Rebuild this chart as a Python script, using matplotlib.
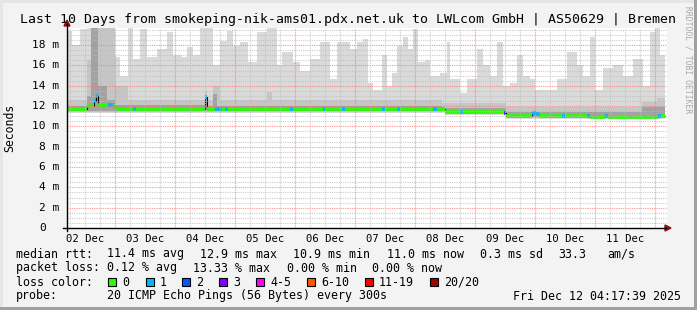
import matplotlib
matplotlib.use("Agg")
import matplotlib.pyplot as plt
from matplotlib.patches import Rectangle, Polygon
from matplotlib.lines import Line2D
import numpy as np

# hours since window start (02 Dec ~04:48), step values
smoke_h = [0, 2, 5.2, 8, 19.2, 21.2, 24.4, 26.4, 29.2, 32, 36, 40, 42.4, 46, 48, 50.4,
           53.2, 56, 58.4, 61.2, 64, 66.4, 69.2, 72.4, 76, 80, 84, 86, 90.4, 93.2, 97.2,
           101.2, 105.2, 108, 113.2, 116, 118.4, 120.4, 122.4, 126, 128, 130, 132, 134.4,
           136.4, 138.4, 140.4, 143.2, 145.2, 149.2, 152, 153.2, 157.2, 160, 164, 166.4,
           169.2, 172, 174.4, 177.2, 180, 182.4, 185.2, 187.2, 196, 200, 204, 206.4, 209.2,
           211.2, 214.4, 218.4, 222.4, 226.4, 230.4, 233.2, 235.2, 237.2]
smoke_max = [19.4, 18.0, 19.6, 20, 16.8, 15.0, 19.7, 16.6, 19.6, 16.8, 17.6, 19.3, 17.0, 16.8,
             17.8, 17.0, 19.8, 19.9, 16.0, 18.45, 19.4, 17.96, 18.3, 16.3, 19.3, 19.8, 16.0,
             17.3, 16.3, 15.5, 16.6, 18.3, 14.7, 18.3, 17.6, 18.3, 18.6, 14.3, 13.6, 17.0,
             14.0, 15.3, 17.96, 18.8, 17.6, 19.6, 16.3, 16.5, 15.0, 15.3, 18.3, 14.7, 13.3,
             14.7, 17.6, 16.0, 15.0, 18.3, 14.0, 14.3, 17.0, 15.0, 14.7, 13.6, 14.7, 17.3,
             16.0, 15.0, 18.8, 13.6, 15.7, 16.0, 15.0, 16.6, 14.0, 19.3, 20, 17.0]
smoke_end = 239.2

min_h = [0, 151.2, 175.6]
min_v = [11.3, 11.1, 10.7]

mid_h = [0, 8, 10, 19.2, 24.4, 55.2, 56, 58.4, 61.2, 80, 82, 150, 175.6, 230, 236]
mid_v = [12.6, 16.5, 20, 14.0, 12.6, 13.5, 12.6, 14.0, 12.6, 13.4, 12.6, 12.3, 11.9, 12.4, 12.8]

dark_h = [0, 8, 9.6, 12.4, 16, 19.2, 55.2, 56, 58.4, 60, 150, 175.6, 230]
dark_v = [12.0, 13.0, 20, 14.0, 12.6, 12.1, 12.9, 12.0, 13.2, 12.0, 11.8, 11.4, 11.9]

core_h = [0, 10.4, 12.4, 58.4, 59.6]
core_v = [0, 20, 0, 13.6, 0]

# median rtt and loss count per step
med_h = [0, 8, 10.8, 11.6, 12.4, 16.4, 18.4, 19.2, 20.4, 26.4, 27.6, 55.2, 56, 59.2, 62,
         63.2, 64.4, 89.2, 90.4, 102.4, 103.6, 110, 111.2, 126, 127.2, 132, 133.2, 146.4,
         148, 151.2, 157.2, 158.4, 174.8, 175.6, 186, 187.6, 188.8, 198, 199.2, 208, 209.2,
         215.2, 216.4, 236.4, 237.6]
med_v = [11.7, 12.0, 12.5, 13.0, 12.1, 12.1, 12.0, 11.8, 11.7, 11.7, 11.7, 12.9, 11.7, 11.7,
         11.7, 11.7, 11.7, 11.7, 11.7, 11.7, 11.7, 11.7, 11.7, 11.7, 11.7, 11.7, 11.7, 11.7,
         11.7, 11.4, 11.4, 11.4, 11.3, 11.0, 11.3, 11.2, 11.0, 11.0, 11.0, 11.0, 10.9, 11.0,
         10.95, 11.0, 11.0]
med_loss = [0, 0, 1, 1, 0, 1, 0, 0, 0, 1, 0, 1, 0, 1, 0, 1, 0, 1, 0, 1, 0, 1, 0, 1, 0, 1, 0,
            1, 0, 0, 1, 0, 3, 0, 1, 1, 0, 1, 0, 1, 0, 1, 0, 1, 0]

day_labels = ["02 Dec", "03 Dec", "04 Dec", "05 Dec", "06 Dec",
              "07 Dec", "08 Dec", "09 Dec", "10 Dec", "11 Dec"]
y_ticks = [0, 2, 4, 6, 8, 10, 12, 14, 16, 18]

loss_names = ["0", "1", "2", "3", "4-5", "6-10", "11-19", "20/20"]
loss_colors = ["#26ff00", "#00b8ff", "#0059ff", "#7e00ff", "#ff00ff", "#ff5500", "#ff0000", "#a10000"]
loss_box_x = [108, 146, 182, 219, 256, 307, 365, 430]

W, H = 697, 310
MONO = "DejaVu Sans Mono"


def fx(x):
    return x / W


def fy(y):
    return 1 - y / H


def steps(h, v):
    return np.append(h, smoke_end), np.append(v, v[-1])


def loss_col(n):
    if n <= 3:
        return loss_colors[n]
    if n <= 5:
        return loss_colors[4]
    if n <= 10:
        return loss_colors[5]
    if n <= 19:
        return loss_colors[6]
    return loss_colors[7]


fig = plt.figure(figsize=(W / 100, H / 100), dpi=100, facecolor="#f3f3f3")
ax = fig.add_axes([fx(67), fy(228), 600 / W, 200 / H])
ax.set_facecolor("white")
ymax = 200 / 10.16
ax.set_xlim(0, 240)
ax.set_ylim(0, ymax)
for s in ax.spines.values():
    s.set_visible(False)

# smoke
sx, sy = steps(smoke_h, smoke_max)
grid_x = np.unique(np.concatenate([sx, min_h, mid_h, dark_h, core_h, [smoke_end]]))


def sample(h, v):
    idx = np.searchsorted(h, grid_x, side="right") - 1
    return np.array(v, dtype=float)[np.clip(idx, 0, len(v) - 1)]


lo = sample(min_h, min_v)
ax.fill_between(grid_x, lo, sample(smoke_h, smoke_max), step="post", color="#dadada", lw=0, zorder=1)
ax.fill_between(grid_x, lo + 0.1, sample(mid_h, mid_v), step="post", color="#c6c6c6", lw=0, zorder=2)
ax.fill_between(grid_x, lo + 0.2, sample(dark_h, dark_v), step="post", color="#a2a2a2", lw=0, zorder=3)
core = sample(core_h, core_v)
ax.fill_between(grid_x, lo, core, where=core > lo, step="post", color="#555555", lw=0, zorder=4)

# median line
mx, my = steps(med_h, med_v)
ax.step(mx, my, where="post", color="black", lw=0.8, zorder=5)
for i in range(len(med_h)):
    x1 = med_h[i + 1] if i + 1 < len(med_h) else smoke_end
    ax.plot([med_h[i], x1], [med_v[i], med_v[i]], color=loss_col(med_loss[i]),
            lw=2.6, solid_capstyle="butt", zorder=6)

# grid
for v in np.arange(0.5, ymax, 0.5):
    major = abs(v / 2 - round(v / 2)) < 1e-6
    ax.axhline(v, color="#ff7070" if major else "#bdbdbd", lw=0.8,
               ls=(0, (1, 1)), alpha=0.75, zorder=8)
for h in np.arange(1.2, 240, 6):
    major = abs((h - 19.2) / 24 - round((h - 19.2) / 24)) < 1e-6
    ax.axvline(h, color="#ff7070" if major else "#bdbdbd", lw=0.8,
               ls=(0, (1, 1)), alpha=0.75, zorder=8)

ax.set_xticks([7.2 + 24 * i for i in range(10)])
ax.set_xticklabels(day_labels, family=MONO, fontsize=7.6)
ax.set_yticks([])
ax.tick_params(axis="x", length=0, pad=4)

for v in y_ticks:
    s = "%d m" % v if v else "0"
    off = -8 if v else -8 - 2 * 6.7
    ax.annotate(s, xy=(0, v), xycoords=("axes fraction", "data"), xytext=(off, 0),
                textcoords="offset pixels", ha="right", va="center",
                family=MONO, fontsize=8)

# axes lines and arrows
fig.add_artist(Line2D([fx(67), fx(67)], [fy(231), fy(24)], color="black", lw=1))
fig.add_artist(Line2D([fx(63), fx(666)], [fy(228), fy(228)], color="black", lw=1))
fig.add_artist(Polygon([[fx(64), fy(26)], [fx(70), fy(26)], [fx(67), fy(20)]], closed=True,
                       color="#8b1010"))
fig.add_artist(Polygon([[fx(665), fy(225)], [fx(665), fy(231)], [fx(671), fy(228)]], closed=True,
                       color="#8b1010"))

# texts
fig.text(fx(348), fy(19), "Last 10 Days from smokeping-nik-ams01.pdx.net.uk to LWLcom GmbH | AS50629 | Bremen",
         ha="center", va="center", family=MONO, fontsize=9.5)
fig.text(fx(10), fy(128), "Seconds", rotation=90, ha="center", va="center", family=MONO, fontsize=8.3)
fig.text(fx(688), fy(60), "RRDTOOL / TOBI OETIKER", rotation=270, ha="center", va="center",
         family=MONO, fontsize=5.8, color="#a8a8a8")

fs = 8.4
rows = [
    (254, [(16, "median rtt:"), (107, "11.4 ms avg"), (200, "12.9 ms max"), (293, "10.9 ms min"),
           (387, "11.0 ms now"), (480, "0.3 ms sd"), (558, "33.3"), (607, "am/s")]),
    (268, [(16, "packet loss:"), (107, "0.12 % avg"), (193, "13.33 % max"), (287, "0.00 % min"),
           (372, "0.00 % now")]),
    (282, [(16, "loss color:")]),
    (296, [(16, "probe:"), (107, "20 ICMP Echo Pings (56 Bytes) every 300s"),
           (513, "Fri Dec 12 04:17:39 2025")]),
]
for y, items in rows:
    for x, s in items:
        fig.text(fx(x), fy(y), s, ha="left", va="center", family=MONO, fontsize=fs)

for name, col, bx in zip(loss_names, loss_colors, loss_box_x):
    fig.add_artist(Rectangle((fx(bx), fy(286)), 8 / W, 8 / H, facecolor=col,
                             edgecolor="black", lw=0.8))
    fig.text(fx(bx + 14), fy(282), name, ha="left", va="center", family=MONO, fontsize=fs)

# frame
fig.add_artist(Rectangle((0, 0), fx(3), 1, facecolor="#e6e6e6", lw=0))
fig.add_artist(Rectangle((0, fy(3)), 1, 3 / H, facecolor="#e6e6e6", lw=0))
fig.add_artist(Rectangle((fx(694), 0), 3 / W, 1, facecolor="#a0a0a0", lw=0))
fig.add_artist(Rectangle((0, 0), 1, 3 / H, facecolor="#a0a0a0", lw=0))

fig.savefig("out.png", dpi=100, facecolor=fig.get_facecolor())
